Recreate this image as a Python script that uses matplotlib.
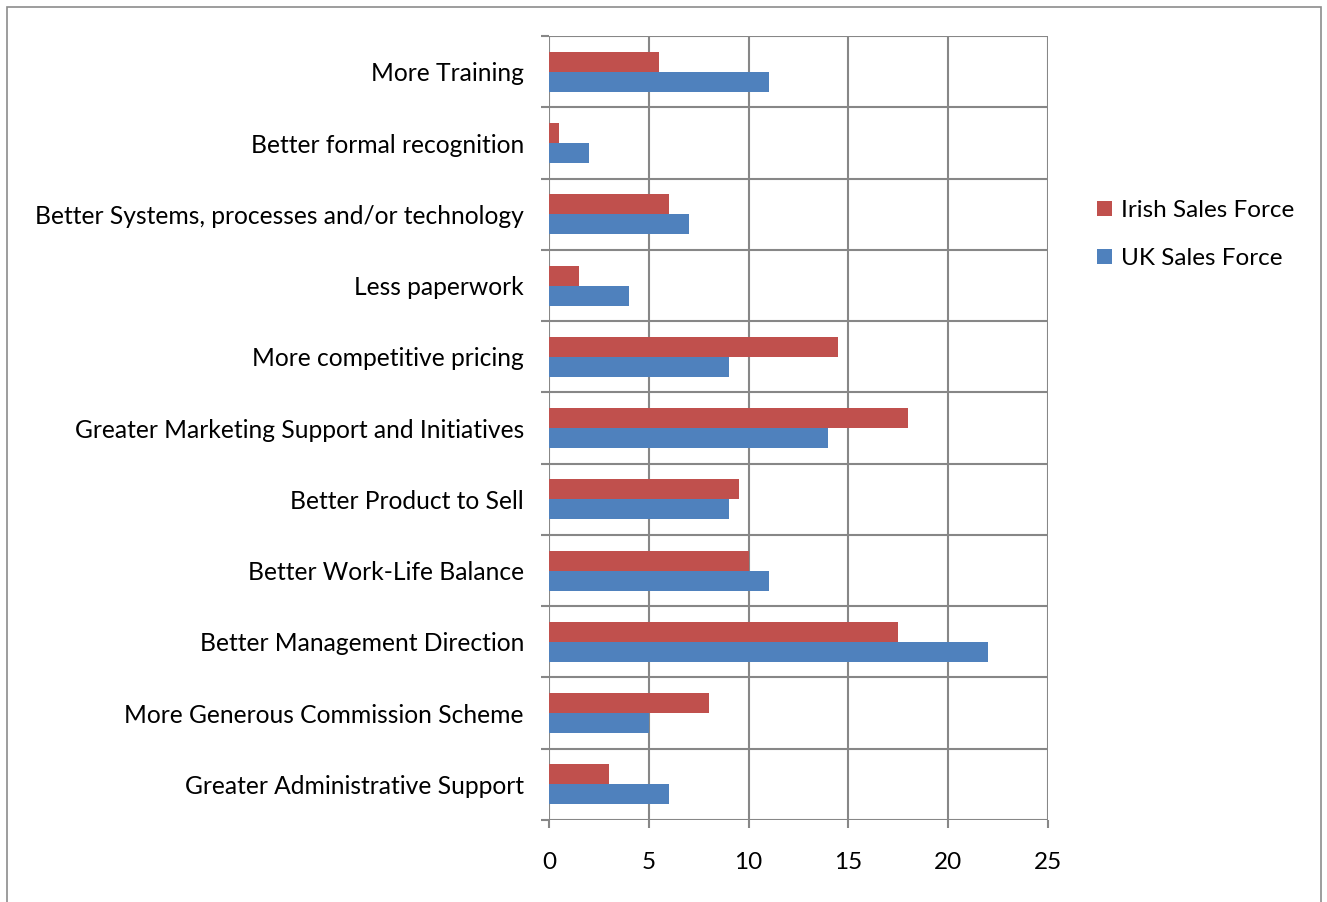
import matplotlib.pyplot as plt
from matplotlib.patches import Rectangle
import numpy as np

categories = [
    "More Training",
    "Better formal recognition",
    "Better Systems, processes and/or technology",
    "Less paperwork",
    "More competitive pricing",
    "Greater Marketing Support and Initiatives",
    "Better Product to Sell",
    "Better Work-Life Balance",
    "Better Management Direction",
    "More Generous Commission Scheme",
    "Greater Administrative Support",
]
irish = [5.5, 0.5, 6, 1.5, 14.5, 18, 9.5, 10, 17.5, 8, 3]
uk = [11, 2, 7, 4, 9, 14, 9, 11, 22, 5, 6]

plt.rcParams['font.family'] = ['Lato', 'DejaVu Sans']
grid_col = "#878787"

fig = plt.figure(figsize=(13.27, 9.02), dpi=100)
ax = fig.add_axes([0.4137, 0.0909, 0.376, 0.869])

y = np.arange(len(categories))
h = 0.28
ax.barh(y - h / 2, irish, height=h, color="#C0504D", label="Irish Sales Force", zorder=3)
ax.barh(y + h / 2, uk, height=h, color="#4F81BD", label="UK Sales Force", zorder=3)

ax.set_xlim(0, 25)
ax.set_ylim(len(categories) - 0.5, -0.5)
ax.set_xticks(range(0, 26, 5))
ax.set_yticks(y)
ax.set_yticklabels(categories)
ax.set_yticks(np.arange(-0.5, len(categories)), minor=True)

ax.tick_params(axis="y", which="major", length=0, pad=18, labelsize=17.7)
ax.tick_params(axis="y", which="minor", length=6, width=1.5, color=grid_col)
ax.tick_params(axis="x", length=6, width=1.5, color=grid_col, pad=17, labelsize=17.5)

ax.grid(True, axis="x", color=grid_col, linewidth=1.5, zorder=1)
ax.grid(True, axis="y", which="minor", color=grid_col, linewidth=1.5, zorder=1)
for s in ax.spines.values():
    s.set_visible(False)

fig.legend(loc="upper left", bbox_to_anchor=(0.827, 0.778), frameon=False,
           fontsize=17.5, handlelength=0.6, handleheight=0.6, handletextpad=0.35,
           labelspacing=1.1, borderaxespad=0, borderpad=0)

fig.patches.append(Rectangle((7 / 1327, -0.01), 1314 / 1327, 1 - 7 / 902 + 0.01,
                             transform=fig.transFigure, fill=False,
                             edgecolor="#8c8c8c", linewidth=1.2))

fig.savefig("out.png", dpi=100)
